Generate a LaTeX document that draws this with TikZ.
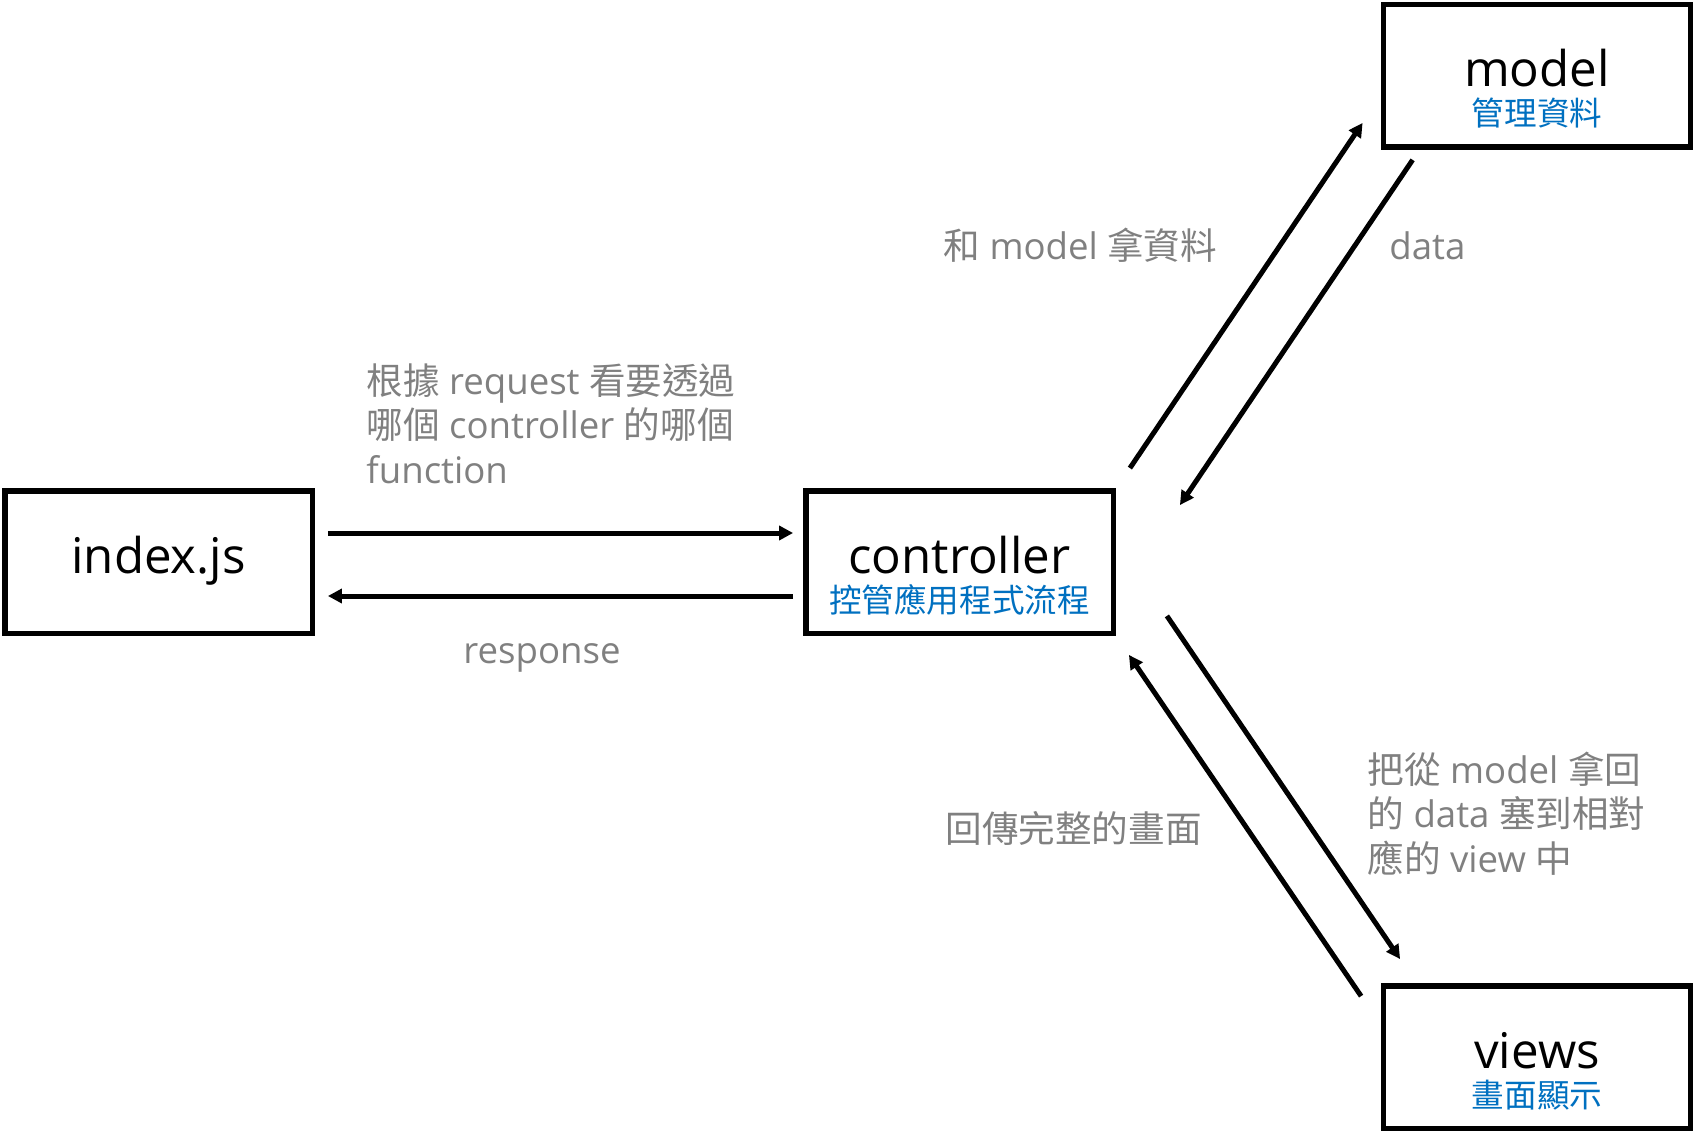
\documentclass[tikz,border=0pt]{standalone}
\usepackage{fontspec}
\setmainfont{Open Sans}
\newfontfamily\cjk{Noto Sans CJK TC}
\usetikzlibrary{arrows.meta}
\definecolor{lblgray}{RGB}{128,128,128}
\definecolor{subblue}{RGB}{0,112,192}
\tikzset{
  boxnode/.style={draw=black, line width=2.7pt, minimum width=153.7pt, minimum height=71.2pt, inner sep=0pt},
  maintext/.style={anchor=base, inner sep=0pt, font=\fontsize{24.6}{29}\selectfont},
  subtext/.style={anchor=base, inner sep=0pt, text=subblue, font=\fontsize{16.3}{19}\selectfont\cjk},
  lbl/.style={anchor=base west, inner sep=0pt, text=lblgray, align=left, font=\fontsize{18.3}{22.25}\selectfont},
  conn/.style={line width=2.5pt, -{Triangle[length=7pt,width=7pt]}}
}
\begin{document}
\begin{tikzpicture}[x=0.5pt,y=-0.5pt]
\useasboundingbox (0,0) rectangle (1696,1134);
% boxes
\node[boxnode] (idx) at (158.5,562) {};
\node[boxnode] (ctl) at (959.5,562) {};
\node[boxnode] (mdl) at (1537,76) {};
\node[boxnode] (vws) at (1537,1057) {};
% box texts
\node[maintext] (idxt) at ([yshift=-11*0.5pt]idx.center) {index.js};
\node[maintext] (ctlt) at ([yshift=-11*0.5pt]ctl.center) {controller};
\node[subtext] (ctls) at ([yshift=-50*0.5pt]ctl.center) {控管應用程式流程};
\node[maintext] (mdlt) at ([yshift=-11*0.5pt]mdl.center) {model};
\node[subtext] (mdls) at ([yshift=-50*0.5pt]mdl.center) {管理資料};
\node[maintext] (vwst) at ([yshift=-11*0.5pt]vws.center) {views};
\node[subtext] (vwss) at ([yshift=-50*0.5pt]vws.center) {畫面顯示};
% connectors
\draw[conn] ([shift={(13,-29)}]idx.east) -- ([shift={(-10,-29)}]ctl.west);
\draw[conn] ([shift={(-10,34)}]ctl.west) -- ([shift={(13,34)}]idx.east);
\draw[conn] ([shift={(14,-20)}]ctl.north east) -- ([shift={(-18,-27)}]mdl.south west);
\draw[conn] ([shift={(32,10)}]mdl.south west) -- ([shift={(64,17)}]ctl.north east);
\draw[conn] ([shift={(51,-20)}]ctl.south east) -- ([shift={(19.5,-24)}]vws.north west);
\draw[conn] ([shift={(-19.5,13)}]vws.north west) -- ([shift={(13,19)}]ctl.south east);
% labels (multi-line nodes: base = last line)
\node[lbl] (l1) at (366,483) {{\cjk 根據} request {\cjk 看要透過}\\{\cjk 哪個} controller {\cjk 的哪個}\\function};
\node[lbl] (l2) at (943,260) {{\cjk 和} model {\cjk 拿資料}};
\node[lbl] (l3) at (1389,260) {data};
\node[lbl, anchor=base] (l4) at (542,663) {response};
\node[lbl] (l5) at (945,842) {{\cjk 回傳完整的畫面}};
\node[lbl] (l6) at (1367,872) {{\cjk 把從} model {\cjk 拿回}\\{\cjk 的} data {\cjk 塞到相對}\\{\cjk 應的} view {\cjk 中}};
\end{tikzpicture}
\end{document}
